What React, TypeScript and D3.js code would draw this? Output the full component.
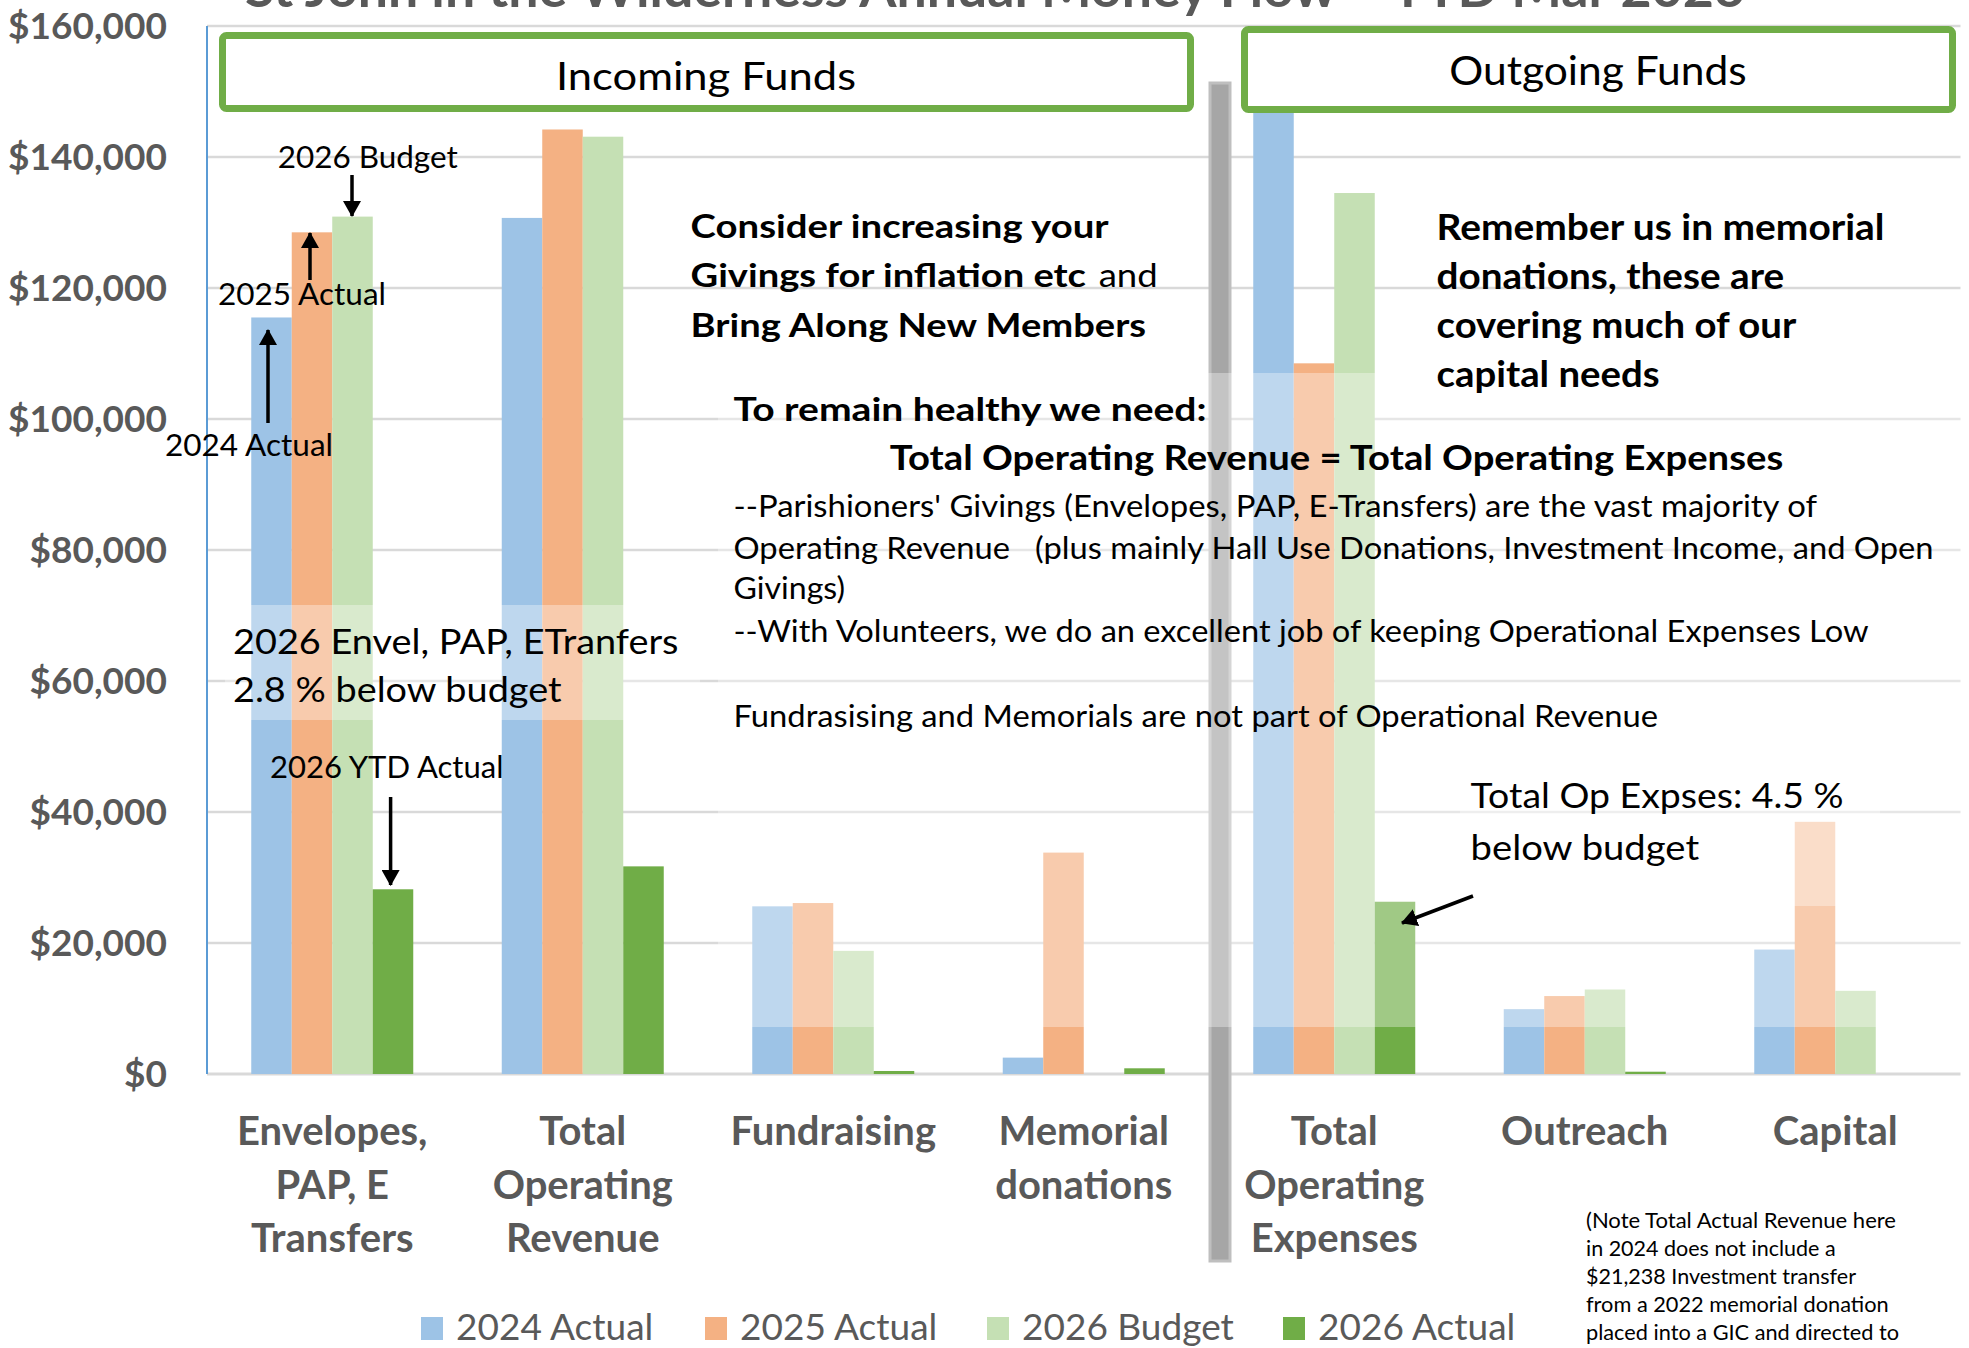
import React from "react";
import * as d3 from "d3";

// ---------- data ----------
const categories = [
  "Envelopes,\nPAP, E\nTransfers",
  "Total\nOperating\nRevenue",
  "Fundraising",
  "Memorial\ndonations",
  "Total\nOperating\nExpenses",
  "Outreach",
  "Capital",
];
const seriesNames = ["2024 Actual", "2025 Actual", "2026 Budget", "2026 Actual"];
const actual2024 = [115500, 130700, 25600, 2500, 150000, 9900, 19000];
const actual2025 = [128500, 144200, 26100, 33800, 108500, 11900, 38500];
const budget2026 = [130900, 143100, 18800, 0, 134500, 12900, 12700];
const actual2026 = [28200, 31700, 460, 870, 26300, 350, 0];
const yTicks = [0, 20000, 40000, 60000, 80000, 100000, 120000, 140000, 160000];
const seriesColors = ["#9DC3E6", "#F4B183", "#C5E0B4", "#70AD47"];

const seriesValues = [actual2024, actual2025, budget2026, actual2026];

const W = 1969;
const H = 1348;
const FONT = "Lato, 'Open Sans', 'DejaVu Sans', sans-serif";
// legend layout (pixel offsets of each legend entry from the first)
const legendOffsets = [0, 284, 566, 862];

type TP = {
  x: number;
  y: number;
  w?: number;
  size: number;
  bold?: boolean;
  fill?: string;
  anchor?: "start" | "middle" | "end";
  children: React.ReactNode;
};
function T({ x, y, w, size, bold, fill = "#000", anchor = "start", children }: TP) {
  return (
    <text
      x={x}
      y={y}
      fontSize={size}
      fontWeight={bold ? 700 : 400}
      fill={fill}
      textAnchor={anchor}
      textLength={w}
      lengthAdjust={w ? "spacingAndGlyphs" : undefined}
      style={{ whiteSpace: "pre" }}
    >
      {children}
    </text>
  );
}

export default function App() {
  const left = 207;
  const right = 1960.5;
  const x0 = d3
    .scaleBand<string>()
    .domain(categories)
    .range([left, right])
    .paddingInner(0.3533)
    .paddingOuter(0.17665);
  const x1 = d3.scaleBand<string>().domain(seriesNames).range([0, x0.bandwidth()]);
  const y = d3.scaleLinear().domain([0, 160000]).range([1074, 26]);
  const fmt = d3.format("$,.0f");

  const overlay = "rgba(255,255,255,0.34)";

  return (
    <svg
      width={W}
      height={H}
      viewBox={`0 0 ${W} ${H}`}
      style={{ position: "absolute", left: 0, top: 0, display: "block", background: "#fff" }}
      fontFamily={FONT}
    >
      <defs>
        <marker
          id="ah"
          viewBox="0 0 16 18"
          refX={15}
          refY={9}
          markerWidth={16}
          markerHeight={18}
          markerUnits="userSpaceOnUse"
          orient="auto"
        >
          <path d="M0,0 L16,9 L0,18 z" fill="#000" />
        </marker>
      </defs>
      <rect x={0} y={0} width={W} height={H} fill="#fff" />

      {/* title (cut off at top, as in the original) */}
      <T x={245} y={7} w={1500} size={52} bold fill="#595959">
        St John in the Wilderness Annual Money Flow – YTD Mar 2026
      </T>

      {/* gridlines */}
      {yTicks.map((t) => (
        <line
          key={t}
          x1={left}
          x2={right}
          y1={y(t)}
          y2={y(t)}
          stroke="#D9D9D9"
          strokeWidth={t === 0 ? 3 : 2.5}
        />
      ))}
      {/* y tick labels */}
      {yTicks.map((t) => (
        <text
          key={"l" + t}
          x={167}
          y={y(t) + 13}
          textAnchor="end"
          fontSize={37}
          fontWeight={700}
          fill="#595959"
        >
          {fmt(t)}
        </text>
      ))}

      {/* bars */}
      {categories.map((c, i) => (
        <g key={c} transform={`translate(${x0(c)},0)`}>
          {seriesNames.map((s, k) => {
            const v = seriesValues[k][i];
            if (!v) return null;
            return (
              <rect
                key={s}
                x={x1(s)}
                y={y(v)}
                width={x1.bandwidth()}
                height={y(0) - y(v)}
                fill={seriesColors[k]}
              />
            );
          })}
        </g>
      ))}

      {/* y axis line */}
      <line x1={left} x2={left} y1={y(160000)} y2={y(0)} stroke="#5B9BD5" strokeWidth={2} />

      {/* separator */}
      <rect x={1210} y={83} width={20} height={1178} fill="#A6A6A6" stroke="#BFBFBF" strokeWidth={3} />

      {/* semi-transparent text-box fills */}
      <rect x={225} y={605} width={475} height={115} fill={overlay} />
      <rect x={718} y={373} width={1250} height={654} fill={overlay} />
      <rect x={1460} y={770} width={420} height={136} fill={overlay} />

      {/* header boxes */}
      <rect x={222.5} y={35.5} width={968} height={73} rx={4} fill="#fff" stroke="#70AD47" strokeWidth={7} />
      <T x={706} y={90} w={300} size={39} anchor="middle">
        Incoming Funds
      </T>
      <rect x={1244.5} y={29.5} width={708} height={80} rx={4} fill="#fff" stroke="#70AD47" strokeWidth={7} />
      <T x={1598} y={85} w={297.5} size={41} anchor="middle">
        Outgoing Funds
      </T>

      {/* category labels */}
      {categories.map((c) => {
        const cx = (x0(c) as number) + x0.bandwidth() / 2;
        return (
          <text key={"c" + c} textAnchor="middle" fontSize={40} fontWeight={700} fill="#595959">
            {c.split("\n").map((ln, j) => (
              <tspan key={j} x={cx} y={1145 + j * 53.5}>
                {ln}
              </tspan>
            ))}
          </text>
        );
      })}

      {/* legend */}
      {seriesNames.map((s, k) => {
        const lx = 421 + legendOffsets[k];
        return (
          <g key={"lg" + s}>
            <rect x={lx} y={1317} width={22} height={23} fill={seriesColors[k]} />
            <text x={lx + 35} y={1340} fontSize={37} fill="#595959">
              {s}
            </text>
          </g>
        );
      })}

      {/* bar annotations */}
      <T x={277.7} y={168} w={180} size={31}>2026 Budget</T>
      <line x1={352} y1={175} x2={352} y2={216} stroke="#000" strokeWidth={3.5} markerEnd="url(#ah)" />
      <T x={218} y={305} w={168} size={31}>2025 Actual</T>
      <line x1={310} y1={280} x2={310} y2={233} stroke="#000" strokeWidth={3.5} markerEnd="url(#ah)" />
      <T x={165} y={456} w={168} size={31}>2024 Actual</T>
      <line x1={268} y1={423} x2={268} y2={330} stroke="#000" strokeWidth={3.5} markerEnd="url(#ah)" />
      <T x={270} y={778} w={233.5} size={31}>2026 YTD Actual</T>
      <line x1={390.6} y1={797} x2={390.6} y2={885} stroke="#000" strokeWidth={3.5} markerEnd="url(#ah)" />

      <T x={233} y={654} w={445.5} size={34}>2026 Envel, PAP, ETranfers</T>
      <T x={233} y={702} w={328.6} size={34}>2.8 % below budget</T>

      {/* consider */}
      <T x={690.6} y={238} w={418} size={32} bold>Consider increasing your</T>
      <T x={690.6} y={287} w={395.4} size={32} bold>Givings for inflation etc</T>
      <T x={1098.7} y={287} w={59} size={32}>and</T>
      <T x={690.6} y={337} w={455.5} size={32} bold>Bring Along New Members</T>

      {/* remember */}
      <T x={1436.5} y={240} w={448} size={36} bold>Remember us in memorial</T>
      <T x={1436.5} y={289} w={347.7} size={36} bold>donations, these are</T>
      <T x={1436.5} y={338} w={359.7} size={36} bold>covering much of our</T>
      <T x={1436.5} y={387} w={223} size={36} bold>capital needs</T>

      {/* healthy */}
      <T x={733.5} y={421} w={473} size={33} bold>To remain healthy we need:</T>
      <T x={889.7} y={470} w={893.5} size={34} bold>Total Operating Revenue = Total Operating Expenses</T>
      <T x={733.5} y={516.5} w={1083.5} size={30}>--Parishioners' Givings (Envelopes, PAP, E-Transfers) are the vast majority of</T>
      <T x={733.5} y={558.5} w={1200} size={30}>Operating Revenue   (plus mainly Hall Use Donations, Investment Income, and Open</T>
      <T x={733.5} y={599} w={111.6} size={30}>Givings)</T>
      <T x={733.5} y={641.5} w={1135} size={30}>--With Volunteers, we do an excellent job of keeping Operational Expenses Low</T>
      <T x={733.5} y={726.5} w={924.5} size={30}>Fundrasising and Memorials are not part of Operational Revenue</T>

      {/* op expenses note */}
      <T x={1470.6} y={808} w={373} size={35}>Total Op Expses: 4.5 %</T>
      <T x={1470.6} y={860} w={228.5} size={35}>below budget</T>
      <line x1={1473} y1={896} x2={1402} y2={923} stroke="#000" strokeWidth={3.5} markerEnd="url(#ah)" />

      {/* footnote */}
      <T x={1586} y={1228} w={310} size={21}>(Note Total Actual Revenue here</T>
      <T x={1586} y={1256} w={249.6} size={21}>in 2024 does not include a</T>
      <T x={1586} y={1284} w={270} size={21}>$21,238 Investment transfer</T>
      <T x={1586} y={1312} w={302.7} size={21}>from a 2022 memorial donation</T>
      <T x={1586} y={1340} w={313} size={21}>placed into a GIC and directed to</T>
    </svg>
  );
}
